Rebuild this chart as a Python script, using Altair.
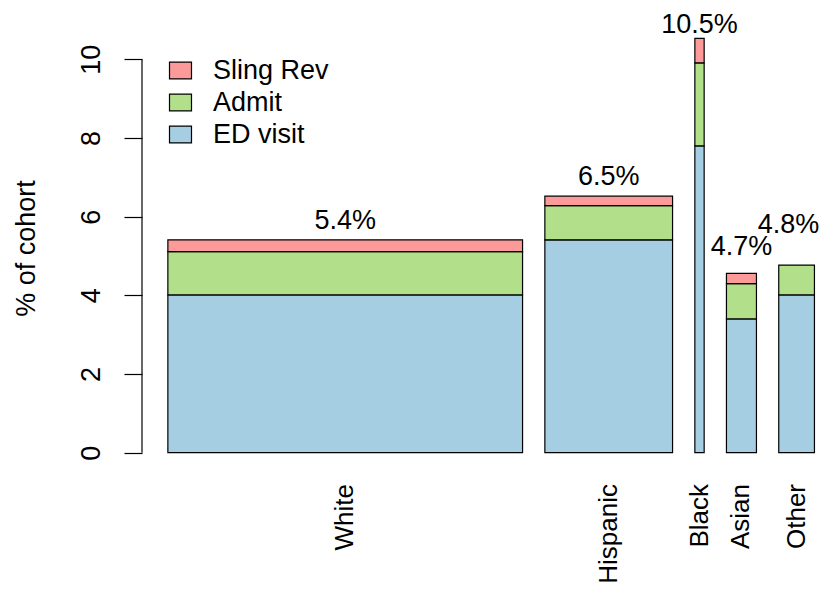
import altair as alt
import pandas as pd

races = ["White", "Hispanic", "Black", "Asian", "Other"]
widths = [354.7, 127.7, 9.3, 30.0, 35.7]          # relative cohort size -> bar widths
ed_visit = [4.01, 5.41, 7.80, 3.40, 4.01]
admit = [1.10, 0.87, 2.11, 0.90, 0.76]
sling_rev = [0.30, 0.24, 0.62, 0.26, 0.00]
total_labels = ["5.4%", "6.5%", "10.5%", "4.7%", "4.8%"]
label_y = [5.88, 7.0, 10.88, 5.22, 5.8]
categories = ["Sling Rev", "Admit", "ED visit"]
colors = ["#FB9A99", "#B2DF8A", "#A6CEE3"]
y_ticks = [0, 2, 4, 6, 8, 10]

FONT = "Liberation Sans"
FS = 27

# R-barplot style layout: space = 0.2 * mean width
space = 0.2 * sum(widths) / len(widths)
x0s, x1s = [], []
pos = space
for w in widths:
    x0s.append(pos)
    x1s.append(pos + w)
    pos += w + space

rows = []
for i, r in enumerate(races):
    base = 0.0
    for cat, vals in (("ED visit", ed_visit), ("Admit", admit), ("Sling Rev", sling_rev)):
        v = vals[i]
        if v > 0:
            rows.append({"race": r, "category": cat, "x0": x0s[i], "x1": x1s[i],
                         "y0": base, "y1": base + v})
        base += v
bars = pd.DataFrame(rows)

lab = pd.DataFrame({
    "race": races,
    "xc": [(a + b) / 2 for a, b in zip(x0s, x1s)],
    "label": total_labels,
    "ly": label_y,
})

PW, PH = 679, 460
span = x1s[-1] - x0s[0]
u_left = x0s[0] - 0.04 * span
xscale = alt.Scale(domain=[u_left, u_left + PW], nice=False, zero=False)
yscale = alt.Scale(domain=[-0.44, 11.253], nice=False, zero=False)

rects = alt.Chart(bars).mark_rect(stroke="black", strokeWidth=1.2).encode(
    x=alt.X("x0:Q", scale=xscale, axis=None),
    x2="x1:Q",
    y=alt.Y("y0:Q", scale=yscale, axis=alt.Axis(
        values=y_ticks, title="% of cohort", grid=False, domain=False,
        tickSize=18, tickColor="black", tickWidth=1.2,
        labelAngle=270, labelAlign="center", labelBaseline="alphabetic",
        labelPadding=25, labelFontSize=FS, labelFont=FONT, labelColor="black",
        titleFontSize=FS, titleFont=FONT, titleFontWeight="normal", titleColor="black",
        titleAngle=270, titleAlign="center", titleBaseline="alphabetic",
        titleX=-108, titleY=238)),
    y2="y1:Q",
    color=alt.Color("category:N",
                    scale=alt.Scale(domain=categories, range=colors),
                    legend=alt.Legend(
                        title=None, orient="none", legendX=25, legendY=47,
                        direction="vertical", padding=0,
                        symbolType="M-1,-0.77H1V0.77H-1Z", symbolSize=484,
                        symbolStrokeColor="black", symbolStrokeWidth=1.2,
                        symbolOpacity=1,
                        labelFontSize=FS, labelFont=FONT, labelColor="black",
                        labelOffset=19, rowPadding=4)),
)

axis_df = pd.DataFrame({"a": [0], "b": [10]})
yline = alt.Chart(axis_df).mark_rule(color="black", strokeWidth=1.2).encode(
    x=alt.value(0),
    y=alt.Y("a:Q", scale=yscale),
    y2="b:Q",
)

top_text = alt.Chart(lab).mark_text(
    font=FONT, fontSize=FS, align="center", baseline="middle", color="black"
).encode(
    x=alt.X("xc:Q", scale=xscale),
    y=alt.Y("ly:Q", scale=yscale),
    text="label:N",
).transform_filter(alt.datum.race != "Other")

# last label nudged left so it stays inside the page
top_text_last = alt.Chart(lab).mark_text(
    font=FONT, fontSize=FS, align="center", baseline="middle", color="black", dx=-8
).encode(
    x=alt.X("xc:Q", scale=xscale),
    y=alt.Y("ly:Q", scale=yscale),
    text="label:N",
).transform_filter(alt.datum.race == "Other")

x_text = alt.Chart(lab).mark_text(
    font=FONT, fontSize=26, align="right", baseline="middle", angle=270, color="black"
).encode(
    x=alt.X("xc:Q", scale=xscale),
    y=alt.value(474),
    text="race:N",
)

chart = alt.layer(rects, yline, top_text, top_text_last, x_text).properties(
    width=PW, height=PH,
    autosize=alt.AutoSizeParams(type="none"),
    padding={"left": 134, "top": 2, "right": 0, "bottom": 113},
).configure(font=FONT).configure_view(stroke=None)

chart.save("out.html", embed_options={"renderer": "svg", "actions": False})
